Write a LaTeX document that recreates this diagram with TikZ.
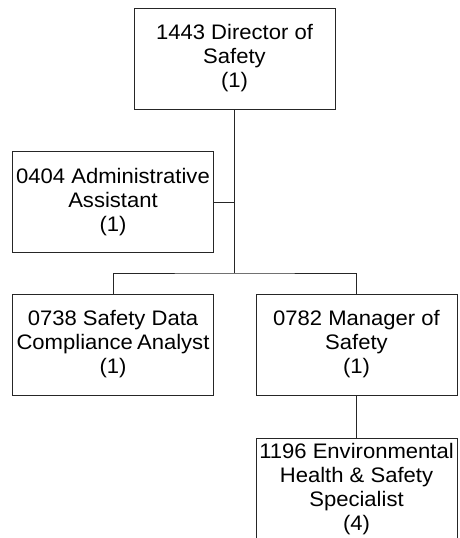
\documentclass[tikz,border=0pt]{standalone}
\usepackage{fontspec}
\setmainfont{Liberation Sans}[FakeStretch=1.05]
\begin{document}
\begin{tikzpicture}[x=1pt,y=-1pt,
  box/.style={draw=black!85, line width=0.9pt, minimum width=201pt, minimum height=101pt,
    inner sep=0pt, align=center, font=\fontsize{21}{24}\selectfont},
  conn/.style={draw=black!85, line width=0.9pt}]
\useasboundingbox[fill=white] (0,0) rectangle (459,538);
\node[box] (dir) at (234.5,58.5) {1443 Director of\\Safety\\(1)};
\node[box] (adm) at (113,202) {0404 Administrative\\Assistant\\(1)};
\node[box] (sdc) at (113,344.5) {0738 Safety Data\\Compliance\hspace{-2pt} Analyst\\(1)};
\node[box] (mgr) at (356.5,344.5) {0782 Manager of\\Safety\\(1)};
\node[box] (ehs) at (356.5,489) {1196 Environmental\\Health \& Safety\\Specialist\\(4)};
\coordinate (bus) at (0,273);
\draw[conn] (dir.south) -- (dir.south |- bus);
\draw[conn] (adm.east) -- (adm.east -| dir.south);
\draw[conn] (sdc.north) |- (dir.south |- bus) -| (mgr.north);
\draw[conn] (mgr.south) -- (ehs.north);
\end{tikzpicture}
\end{document}
